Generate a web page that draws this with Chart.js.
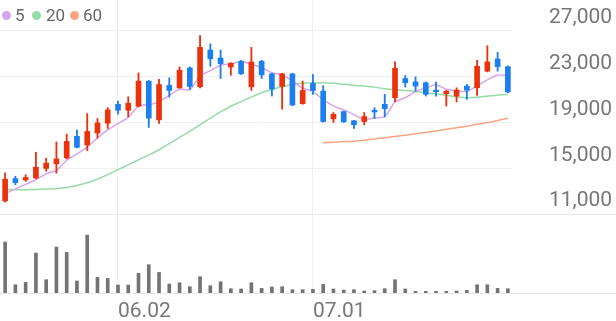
<!DOCTYPE html>
<html>
<head>
<meta charset="utf-8">
<script src="https://cdn.jsdelivr.net/npm/chart.js@4/dist/chart.umd.min.js"></script>
<style>
  html, body { margin: 0; padding: 0; background: #fff; }
  #wrap { position: relative; width: 616px; height: 321px; }
  .dot { position: absolute; width: 9px; height: 9px; border-radius: 50%; top: 11px; }
  .lbl { position: absolute; top: 4px; font: 17px Roboto; color: #666; line-height: 22px; }
</style>
</head>
<body>
<div id="wrap">
  <canvas id="stockChart" width="616" height="321"></canvas>
  <span class="dot" style="left:2px;background:#d9a3ee"></span><span class="lbl" style="left:15px">5</span>
  <span class="dot" style="left:32px;background:#96dca6"></span><span class="lbl" style="left:46px">20</span>
  <span class="dot" style="left:70px;background:#f8a67f"></span><span class="lbl" style="left:83px">60</span>
</div>
<script>
// trading days shown on the chart
const dates = ['05.16','05.19','05.20','05.21','05.22','05.23','05.26','05.27','05.28','05.29',
  '05.30','06.02','06.04','06.05','06.09','06.10','06.11','06.12','06.13','06.16',
  '06.17','06.18','06.19','06.20','06.23','06.24','06.25','06.26','06.27','06.30',
  '07.01','07.02','07.03','07.04','07.07','07.08','07.09','07.10','07.11','07.14',
  '07.15','07.16','07.17','07.18','07.21','07.22','07.23','07.24','07.25','07.28'];
const dateTicks = ['06.02', '07.01'];
const priceTicks = [11000, 15000, 19000, 23000, 27000];

const openPrices = [12150, 14100, 13980, 14150, 14990, 15390, 15910, 17790, 17040, 18080,
  18940, 20590, 20070, 20420, 22610, 19230, 22240, 22030, 23770, 22120,
  25330, 24630, 23850, 24340, 22120, 24340, 23250, 22150, 23250, 20650,
  22410, 21740, 19320, 19950, 19150, 19090, 20070, 20590, 21170, 22840,
  22550, 22470, 21830, 21510, 21310, 22180, 22030, 23480, 24550, 23880];
const highPrices = [14600, 14300, 14440, 16400, 15880, 17300, 17990, 18340, 19780, 19350,
  20300, 20880, 21250, 23330, 22670, 22760, 22900, 23850, 23850, 26600,
  25870, 25330, 24230, 24430, 25560, 24430, 23300, 23300, 23300, 22610,
  23190, 22210, 19870, 20010, 19200, 19870, 20300, 21460, 24290, 23100,
  22990, 22550, 22520, 21800, 22030, 22320, 24430, 25700, 25120, 23940];
const lowPrices = [12050, 13550, 13860, 14100, 14750, 14580, 15820, 16780, 16550, 17640,
  18480, 19720, 19490, 20360, 18570, 18910, 21220, 21980, 21890, 22030,
  23910, 22840, 23130, 23190, 21800, 22840, 21310, 20160, 20470, 20590,
  21460, 19030, 19000, 19000, 18480, 18800, 19350, 19490, 20820, 22090,
  21740, 21310, 21310, 20440, 20790, 21020, 21370, 23420, 23480, 21600];
const closePrices = [14050, 13750, 14200, 15100, 15450, 15820, 17350, 16830, 18220, 18970,
  20100, 20070, 20680, 22610, 19380, 22320, 21800, 23560, 22150, 25560,
  24570, 24140, 24170, 23250, 24290, 23160, 21920, 23250, 20530, 21800,
  21800, 19090, 19720, 19060, 18800, 19520, 19920, 20210, 23740, 22470,
  22180, 21460, 21690, 21740, 21830, 21830, 23910, 24290, 23880, 21660];

const ma5 = [12790, 13200, 13600, 14000, 14520, 14820, 15700, 16250, 16850, 17650,
  18350, 18900, 19450, 20450, 20540, 20800, 21360, 21930, 21850, 23070,
  23530, 24000, 24120, 24340, 24080, 23800, 23350, 23170, 22630, 22000,
  21700, 21000, 20450, 20100, 19690, 19240, 19400, 19500, 20800, 21170,
  21700, 22010, 22300, 21900, 21780, 21710, 22200, 22720, 23150, 23110];
const ma20 = [13150, 13130, 13130, 13150, 13180, 13230, 13330, 13500, 13730, 14050,
  14450, 14880, 15300, 15750, 16150, 16620, 17150, 17700, 18220, 18800,
  19380, 19920, 20420, 20820, 21220, 21600, 21890, 22120, 22320, 22440,
  22470, 22470, 22420, 22340, 22260, 22180, 22090, 21950, 21860, 21790,
  21710, 21600, 21480, 21380, 21250, 21160, 21200, 21290, 21390, 21450];
const ma60 = [null, null, null, null, null, null, null, null, null, null,
  null, null, null, null, null, null, null, null, null, null,
  null, null, null, null, null, null, null, null, null, null,
  null, 17230, 17280, 17330, 17370, 17450, 17560, 17670, 17780, 17890,
  18020, 18130, 18260, 18400, 18540, 18680, 18840, 18990, 19180, 19380];

const volumes = [5100, 830, 1060, 4000, 1330, 4600, 4060, 1200, 5800, 1560,
  1460, 800, 800, 1960, 2830, 2060, 900, 1030, 630, 1630,
  730, 1130, 430, 400, 1030, 460, 600, 630, 330, 330,
  360, 860, 400, 300, 330, 200, 230, 430, 1330, 400,
  160, 160, 160, 160, 200, 260, 830, 830, 460, 430];

const UP = '#e8330d';
const DOWN = '#1b7fee';
const candleColors = openPrices.map((o, i) => closePrices[i] >= o ? UP : DOWN);
const labelFont = { family: 'Roboto', size: 21 };

// full-width separators under the price and volume panels
const panelLines = {
  id: 'panelLines',
  beforeDatasetsDraw(chart) {
    const ctx = chart.ctx;
    ctx.save();
    ctx.strokeStyle = '#e8e8e8';
    ctx.lineWidth = 1;
    [chart.scales.y.bottom, chart.scales.yv.bottom].forEach(y => {
      const py = Math.round(y) + 0.5;
      ctx.beginPath();
      ctx.moveTo(0, py);
      ctx.lineTo(chart.width, py);
      ctx.stroke();
    });
    ctx.restore();
  }
};

function maLine(data, color) {
  return {
    type: 'line',
    data: data,
    borderColor: color,
    borderWidth: 1.5,
    pointRadius: 0,
    tension: 0.2,
    yAxisID: 'y',
    order: 3
  };
}

new Chart(document.getElementById('stockChart'), {
  data: {
    labels: dates,
    datasets: [
      maLine(ma5, '#d9a3ee'),
      maLine(ma20, '#96dca6'),
      maLine(ma60, '#f8a67f'),
      {
        type: 'bar',
        data: lowPrices.map((l, i) => [l, highPrices[i]]),
        backgroundColor: candleColors,
        barThickness: 1.2,
        grouped: false,
        yAxisID: 'y',
        order: 2
      },
      {
        type: 'bar',
        data: openPrices.map((o, i) => [o, closePrices[i]]),
        backgroundColor: candleColors,
        barThickness: 5,
        grouped: false,
        yAxisID: 'y',
        order: 1
      },
      {
        type: 'bar',
        data: volumes,
        backgroundColor: '#737373',
        barThickness: 3,
        grouped: false,
        yAxisID: 'yv',
        order: 1
      }
    ]
  },
  options: {
    responsive: false,
    animation: false,
    events: [],
    layout: { padding: 0 },
    plugins: { legend: { display: false }, tooltip: { enabled: false } },
    scales: {
      x: {
        offset: true,
        grid: {
          offset: false,
          drawTicks: false,
          color: c => dateTicks.includes(dates[c.index]) ? '#eeeeee' : 'rgba(0,0,0,0)'
        },
        border: { display: false },
        ticks: {
          autoSkip: false,
          maxRotation: 0,
          align: 'start',
          padding: 6,
          color: '#777',
          font: labelFont,
          callback: (v, i) => dateTicks.includes(dates[i]) ? dates[i] : ''
        },
        afterFit: s => { s.height = 28; s.paddingLeft = 0; s.paddingRight = 0; }
      },
      y: {
        position: 'right',
        stack: 'panels',
        stackWeight: 214.3,
        min: 11000,
        max: 29700,
        afterBuildTicks: s => { s.ticks = priceTicks.map(v => ({ value: v })); },
        grid: { color: '#f0f0f0', drawTicks: false },
        border: { display: false },
        ticks: {
          padding: 36,
          labelOffset: -13,
          color: '#777',
          font: labelFont,
          callback: v => v.toLocaleString('en-US')
        },
        afterFit: s => { s.width = 103; s.paddingTop = 0; s.paddingBottom = 0; }
      },
      yv: {
        position: 'right',
        stack: 'panels',
        stackWeight: 79,
        min: 0,
        max: 7900,
        grid: { display: false, drawTicks: false },
        border: { display: false },
        ticks: { display: false },
        afterFit: s => { s.width = 103; s.paddingTop = 0; s.paddingBottom = 0; }
      }
    }
  },
  plugins: [panelLines]
});
</script>
</body>
</html>
